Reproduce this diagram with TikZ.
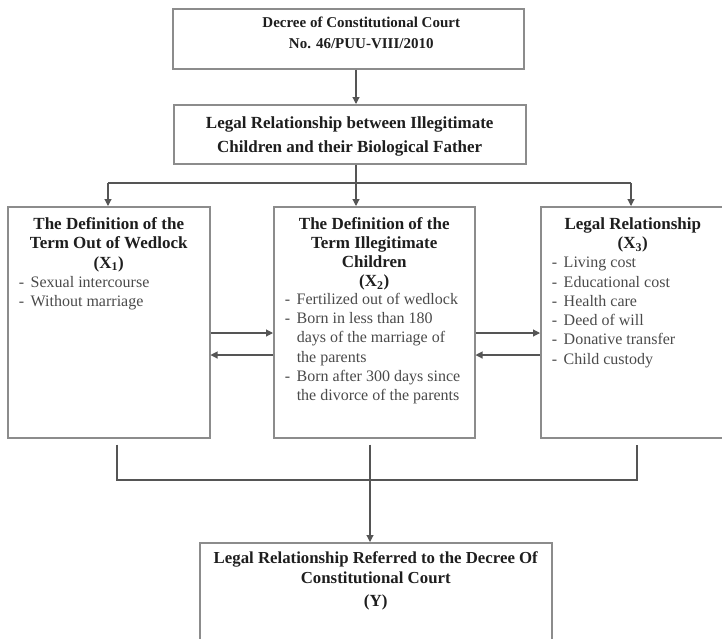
\documentclass[tikz,border=0pt]{standalone}
\usepackage{fontspec}
\setmainfont{Liberation Serif}
\usetikzlibrary{arrows.meta,calc}
\definecolor{boxgray}{HTML}{8C8C8C}
\definecolor{linegray}{HTML}{555555}
\definecolor{txtgray}{HTML}{4A4A4A}
\definecolor{headblack}{HTML}{1E1E1E}
\newcommand{\itm}[1]{\par\hangindent=23pt\hangafter=1\noindent\hspace*{11pt}\makebox[12pt][l]{-}#1}
\newcommand{\mybox}[4]{\parbox[t][#2][t]{#1}{\fontsize{16}{19.3}\selectfont\raggedright\vspace*{#3}#4}}
\begin{document}
\begin{tikzpicture}[x=1pt,y=-1pt,
  box/.style={draw=boxgray,line width=1.5pt,inner sep=0pt,anchor=north west},
  conn/.style={draw=linegray,line width=1.1pt},
  arr/.style={conn,-{Triangle[length=7pt,width=7pt]}}]
\useasboundingbox (0,0) rectangle (722,638);
\clip (0,0) rectangle (722,638);

\node[box] (dec) at (172,8) {\mybox{351pt}{60pt}{8.5pt}{\centering\color{headblack}\bfseries\fontsize{15}{21}\selectfont
  \hspace*{26pt}Decree of Constitutional Court\\\hspace*{26pt}No. 46/PUU-VIII/2010}};

\node[box] (rel) at (173,104) {\mybox{352pt}{59pt}{12pt}{\centering\color{headblack}\bfseries\fontsize{17}{23.5}\selectfont
  Legal Relationship between Illegitimate\\Children and their Biological Father}};

\node[box] (x1) at (7,206) {\mybox{202pt}{231pt}{10.5pt}{{\centering\color{headblack}\bfseries\fontsize{17}{19.4}\selectfont
  The Definition of the\\Term Out of Wedlock\\(X\textsubscript{1})\par}
  \color{txtgray}
  \itm{Sexual intercourse}
  \itm{Without marriage}}};

\node[box] (x2) at (273,206) {\mybox{201pt}{231pt}{10.5pt}{{\centering\color{headblack}\bfseries\fontsize{17}{19.1}\selectfont
  The Definition of the\\Term Illegitimate\\Children\\(X\textsubscript{2})\par}
  \color{txtgray}\vspace*{-1.5pt}
  \itm{Fertilized out of wedlock}
  \itm{Born in less than 180\break days of the marriage of\break the parents}
  \itm{Born after 300 days since\break the divorce of the parents}}};

\node[box] (x3) at (540,206) {\mybox{184pt}{231pt}{10.5pt}{{\centering\color{headblack}\bfseries\fontsize{17}{19.4}\selectfont
  Legal Relationship\\(X\textsubscript{3})\par}
  \color{txtgray}
  \itm{Living cost}
  \itm{Educational cost}
  \itm{Health care}
  \itm{Deed of will}
  \itm{Donative transfer}
  \itm{Child custody}}};

\node[box] (y) at (199,542) {\mybox{352pt}{110pt}{8.5pt}{\centering\color{headblack}\bfseries\fontsize{16.8}{20}\selectfont
  Legal Relationship Referred to the Decree Of\\Constitutional Court\\[3pt]{\fontsize{17}{19}\selectfont(Y)}}};

% helper coordinates
\coordinate (xa) at (356,0);
\coordinate (xl) at (108,0);
\coordinate (xr) at (631,0);
\coordinate (hy) at (0,183);
\coordinate (ya) at (0,333);
\coordinate (yb) at (0,355);
\coordinate (xbl) at (117,0);
\coordinate (xbm) at (370,0);
\coordinate (xbr) at (637,0);
\coordinate (by) at (0,480);

% top chain
\draw[arr] (dec.south -| xa) -- (rel.north -| xa);
\draw[conn] (rel.south -| xa) -- (xa |- hy);
\draw[conn] (xl |- hy) -- (xr |- hy);
\draw[arr] (xl |- hy) -- (x1.north -| xl);
\draw[arr] (xa |- hy) -- (x2.north -| xa);
\draw[arr] (xr |- hy) -- (x3.north -| xr);

% side arrows
\draw[arr] (x1.east |- ya) -- (x2.west |- ya);
\draw[arr] (x2.west |- yb) -- (x1.east |- yb);
\draw[arr] (x2.east |- ya) -- (x3.west |- ya);
\draw[arr] (x3.west |- yb) -- (x2.east |- yb);

% bottom join
\draw[conn] ($(x1.south -| xbl)+(0,6)$) -- (xbl |- by) -- (xbr |- by) -- ($(x3.south -| xbr)+(0,6)$);
\draw[arr] ($(x2.south -| xbm)+(0,6)$) -- (y.north -| xbm);
\end{tikzpicture}
\end{document}
